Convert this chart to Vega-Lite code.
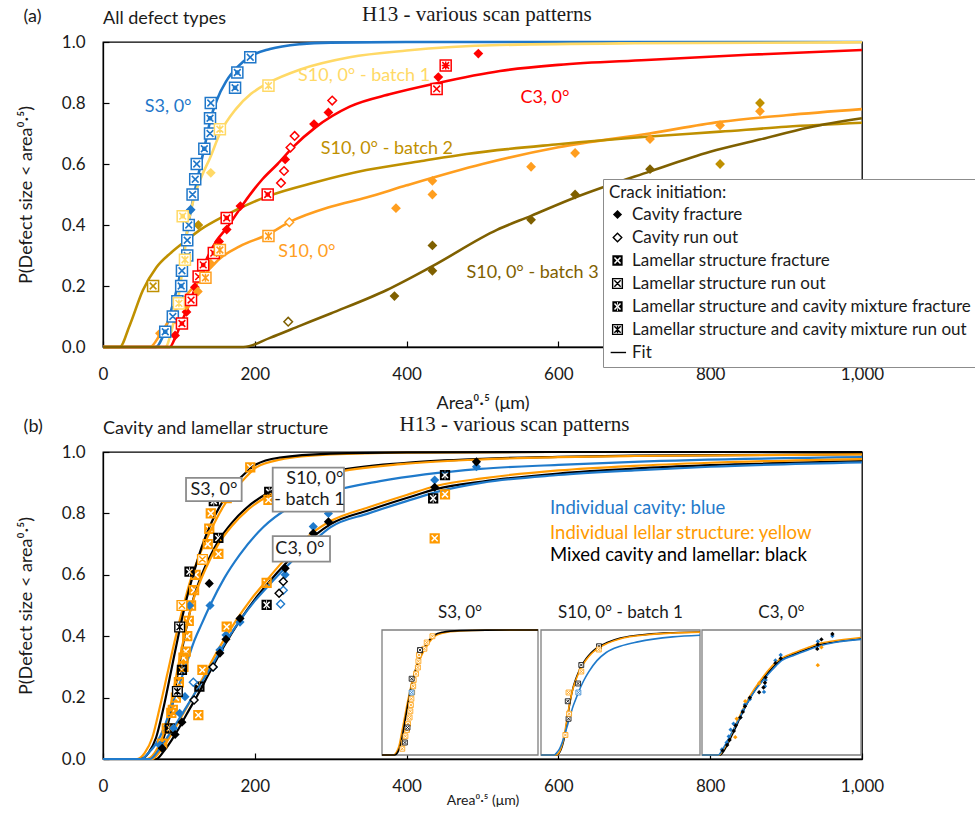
{
"$schema": "https://vega.github.io/schema/vega-lite/v6.json",
"padding": {"left": 16, "top": 4, "right": 2, "bottom": 2},
"background": "#ffffff",
"spacing": 1,
"config": {
  "font": "Lato",
  "view": {"stroke": "#000000", "strokeWidth": 1.3},
  "axis": {"grid": false, "domainColor": "#000000", "domainWidth": 1.3, "tickColor": "#000000", "tickWidth": 1.2, "tickSize": -6, "labelFont": "Lato", "labelFontSize": 17, "labelColor": "#1a1a1a", "labelFlush": false, "labelOverlap": false, "titleFont": "Lato", "titleFontWeight": "normal", "titleColor": "#1a1a1a", "titleFontSize": 18},
  "axisX": {"labelPadding": 25},
  "axisY": {"labelPadding": 24, "titlePadding": 26},
  "title": {"font": "Lato", "fontSize": 18, "fontWeight": "normal", "color": "#1a1a1a", "offset": 0, "baseline": "bottom"}
},
"resolve": {"scale": {"color": "independent", "shape": "independent", "fill": "independent", "stroke": "independent"}},
"datasets": {
"ptsA": [
{"s":"S3","t":"LR","x":82,"y":0.05},{"s":"S3","t":"LF","x":92,"y":0.10},{"s":"S3","t":"LR","x":98,"y":0.15},{"s":"S3","t":"LR","x":103,"y":0.20},{"s":"S3","t":"LF","x":104,"y":0.25},{"s":"S3","t":"LR","x":111,"y":0.30},{"s":"S3","t":"LF","x":111,"y":0.35},{"s":"S3","t":"LF","x":113,"y":0.40},{"s":"S3","t":"CF","x":115.5,"y":0.45},{"s":"S3","t":"LF","x":118,"y":0.50},{"s":"S3","t":"LF","x":121.5,"y":0.55},{"s":"S3","t":"LF","x":123.5,"y":0.60},{"s":"S3","t":"LR","x":133.5,"y":0.65},{"s":"S3","t":"LF","x":141,"y":0.70},{"s":"S3","t":"LR","x":141,"y":0.75},{"s":"S3","t":"LF","x":142,"y":0.80},{"s":"S3","t":"LR","x":174,"y":0.85},{"s":"S3","t":"LR","x":177,"y":0.90},{"s":"S3","t":"LF","x":194,"y":0.95},
{"s":"B1","t":"MF","x":100,"y":0.143},{"s":"B1","t":"MF","x":108,"y":0.286},{"s":"B1","t":"LR","x":105,"y":0.429},{"s":"B1","t":"CF","x":142,"y":0.571},{"s":"B1","t":"MF","x":154,"y":0.714},{"s":"B1","t":"MF","x":218,"y":0.857},
{"s":"C3","t":"CF","x":95,"y":0.038},{"s":"C3","t":"LR","x":104,"y":0.077},{"s":"C3","t":"CF","x":110,"y":0.115},{"s":"C3","t":"LF","x":116,"y":0.154},{"s":"C3","t":"CF","x":121,"y":0.196},{"s":"C3","t":"LF","x":126,"y":0.231},{"s":"C3","t":"LR","x":132,"y":0.269},{"s":"C3","t":"LR","x":146,"y":0.308},{"s":"C3","t":"CF","x":153,"y":0.346},{"s":"C3","t":"CF","x":163,"y":0.385},{"s":"C3","t":"LR","x":163,"y":0.423},{"s":"C3","t":"CF","x":181,"y":0.462},{"s":"C3","t":"LR","x":217,"y":0.500},{"s":"C3","t":"CR","x":234.5,"y":0.538},{"s":"C3","t":"CR","x":238.5,"y":0.577},{"s":"C3","t":"CF","x":240,"y":0.615},{"s":"C3","t":"CR","x":247,"y":0.654},{"s":"C3","t":"CR","x":252.5,"y":0.692},{"s":"C3","t":"CF","x":278,"y":0.731},{"s":"C3","t":"CF","x":297,"y":0.769},{"s":"C3","t":"CR","x":302,"y":0.808},{"s":"C3","t":"LF","x":439.6,"y":0.846},{"s":"C3","t":"CF","x":441.8,"y":0.885},{"s":"C3","t":"MR","x":451.5,"y":0.923},{"s":"C3","t":"CF","x":494.5,"y":0.962},
{"s":"S10","t":"CF","x":75,"y":0.045},{"s":"S10","t":"CF","x":95,"y":0.091},{"s":"S10","t":"CF","x":110,"y":0.136},{"s":"S10","t":"CF","x":125,"y":0.182},{"s":"S10","t":"MF","x":135,"y":0.227},{"s":"S10","t":"CF","x":142,"y":0.273},{"s":"S10","t":"MF","x":154,"y":0.318},{"s":"S10","t":"MF","x":218,"y":0.364},{"s":"S10","t":"CR","x":245.5,"y":0.409},{"s":"S10","t":"CF","x":386,"y":0.455},{"s":"S10","t":"CF","x":434,"y":0.500},{"s":"S10","t":"CF","x":434,"y":0.545},{"s":"S10","t":"CF","x":564,"y":0.591},{"s":"S10","t":"CF","x":622,"y":0.636},{"s":"S10","t":"CF","x":720.7,"y":0.682},{"s":"S10","t":"CF","x":813,"y":0.727},{"s":"S10","t":"CF","x":865.6,"y":0.773},
{"s":"B2","t":"LF","x":66,"y":0.2},{"s":"B2","t":"CF","x":125.6,"y":0.4},{"s":"B2","t":"CF","x":813,"y":0.6},{"s":"B2","t":"CF","x":865.6,"y":0.8},
{"s":"B3","t":"CR","x":244,"y":0.083},{"s":"B3","t":"CF","x":384,"y":0.167},{"s":"B3","t":"CF","x":434,"y":0.25},{"s":"B3","t":"CF","x":434,"y":0.333},{"s":"B3","t":"CF","x":564,"y":0.417},{"s":"B3","t":"CF","x":622,"y":0.5},{"s":"B3","t":"CF","x":720.7,"y":0.583}
],
"curA": [
{"s":"S3","x":0,"y":0},{"s":"S3","x":70,"y":0},{"s":"S3","x":78,"y":0.03},{"s":"S3","x":85,"y":0.08},{"s":"S3","x":92,"y":0.14},{"s":"S3","x":100,"y":0.22},{"s":"S3","x":107,"y":0.32},{"s":"S3","x":113,"y":0.41},{"s":"S3","x":120,"y":0.5},{"s":"S3","x":127,"y":0.58},{"s":"S3","x":135,"y":0.67},{"s":"S3","x":142,"y":0.75},{"s":"S3","x":150,"y":0.81},{"s":"S3","x":162,"y":0.87},{"s":"S3","x":178,"y":0.92},{"s":"S3","x":194,"y":0.953},{"s":"S3","x":220,"y":0.977},{"s":"S3","x":260,"y":0.993},{"s":"S3","x":300,"y":0.998},{"s":"S3","x":400,"y":1},{"s":"S3","x":1000,"y":1},
{"s":"B1","x":0,"y":0},{"s":"B1","x":82,"y":0},{"s":"B1","x":90,"y":0.05},{"s":"B1","x":97,"y":0.13},{"s":"B1","x":104,"y":0.24},{"s":"B1","x":112,"y":0.40},{"s":"B1","x":120,"y":0.49},{"s":"B1","x":130,"y":0.56},{"s":"B1","x":141,"y":0.62},{"s":"B1","x":154,"y":0.70},{"s":"B1","x":175,"y":0.78},{"s":"B1","x":195,"y":0.83},{"s":"B1","x":218,"y":0.866},{"s":"B1","x":260,"y":0.91},{"s":"B1","x":325,"y":0.95},{"s":"B1","x":400,"y":0.972},{"s":"B1","x":523,"y":0.99},{"s":"B1","x":700,"y":0.996},{"s":"B1","x":1000,"y":0.999},
{"s":"C3","x":0,"y":0},{"s":"C3","x":88,"y":0},{"s":"C3","x":95,"y":0.03},{"s":"C3","x":105,"y":0.09},{"s":"C3","x":115,"y":0.15},{"s":"C3","x":125,"y":0.22},{"s":"C3","x":135,"y":0.28},{"s":"C3","x":150,"y":0.35},{"s":"C3","x":163,"y":0.39},{"s":"C3","x":185,"y":0.47},{"s":"C3","x":210,"y":0.55},{"s":"C3","x":230,"y":0.6},{"s":"C3","x":251,"y":0.657},{"s":"C3","x":280,"y":0.72},{"s":"C3","x":325,"y":0.788},{"s":"C3","x":380,"y":0.83},{"s":"C3","x":440,"y":0.865},{"s":"C3","x":523,"y":0.905},{"s":"C3","x":600,"y":0.925},{"s":"C3","x":716,"y":0.941},{"s":"C3","x":850,"y":0.958},{"s":"C3","x":1000,"y":0.974},
{"s":"S10","x":0,"y":0},{"s":"S10","x":62,"y":0},{"s":"S10","x":75,"y":0.04},{"s":"S10","x":90,"y":0.1},{"s":"S10","x":110,"y":0.17},{"s":"S10","x":128,"y":0.22},{"s":"S10","x":142,"y":0.26},{"s":"S10","x":154,"y":0.29},{"s":"S10","x":180,"y":0.33},{"s":"S10","x":218,"y":0.37},{"s":"S10","x":246,"y":0.41},{"s":"S10","x":300,"y":0.46},{"s":"S10","x":347,"y":0.49},{"s":"S10","x":400,"y":0.53},{"s":"S10","x":500,"y":0.6},{"s":"S10","x":600,"y":0.655},{"s":"S10","x":720,"y":0.70},{"s":"S10","x":813,"y":0.738},{"s":"S10","x":900,"y":0.76},{"s":"S10","x":1000,"y":0.78},
{"s":"B2","x":0,"y":0},{"s":"B2","x":22,"y":0},{"s":"B2","x":35,"y":0.07},{"s":"B2","x":52.7,"y":0.187},{"s":"B2","x":70,"y":0.26},{"s":"B2","x":90,"y":0.31},{"s":"B2","x":110,"y":0.35},{"s":"B2","x":127.8,"y":0.384},{"s":"B2","x":160,"y":0.43},{"s":"B2","x":215.7,"y":0.493},{"s":"B2","x":280,"y":0.54},{"s":"B2","x":347,"y":0.58},{"s":"B2","x":420,"y":0.61},{"s":"B2","x":479,"y":0.633},{"s":"B2","x":600,"y":0.665},{"s":"B2","x":720,"y":0.69},{"s":"B2","x":813,"y":0.706},{"s":"B2","x":900,"y":0.722},{"s":"B2","x":1000,"y":0.735},
{"s":"B3","x":0,"y":0},{"s":"B3","x":185,"y":0},{"s":"B3","x":220,"y":0.03},{"s":"B3","x":260,"y":0.07},{"s":"B3","x":300,"y":0.11},{"s":"B3","x":374,"y":0.187},{"s":"B3","x":434,"y":0.265},{"s":"B3","x":519,"y":0.384},{"s":"B3","x":564,"y":0.43},{"s":"B3","x":622,"y":0.49},{"s":"B3","x":720,"y":0.575},{"s":"B3","x":800,"y":0.64},{"s":"B3","x":865,"y":0.68},{"s":"B3","x":930,"y":0.72},{"s":"B3","x":1000,"y":0.75}
],
"labA": [
{"txt":"S3, 0°","s":"S3","x":55,"y":0.786},
{"txt":"S10, 0° - batch 1","s":"B1","x":257,"y":0.889},
{"txt":"C3, 0°","s":"C3","x":550,"y":0.817},
{"txt":"S10, 0° - batch 2","s":"B2","x":287,"y":0.649},
{"txt":"S10, 0°","s":"S10","x":231,"y":0.312},
{"txt":"S10, 0° - batch 3","s":"B3","x":479,"y":0.242}
],
"ptsB": [
{"p":"S3","g":"lam","t":"LF","x":78,"y":0.05},{"p":"S3","g":"lam","t":"LF","x":84,"y":0.10},{"p":"S3","g":"lam","t":"LF","x":90,"y":0.15},{"p":"S3","g":"lam","t":"LF","x":96,"y":0.20},{"p":"S3","g":"lam","t":"LF","x":100,"y":0.25},{"p":"S3","g":"lam","t":"LF","x":106,"y":0.30},{"p":"S3","g":"lam","t":"LF","x":109,"y":0.35},{"p":"S3","g":"lam","t":"LF","x":111,"y":0.40},{"p":"S3","g":"lam","t":"LF","x":113,"y":0.45},{"p":"S3","g":"lam","t":"LF","x":116,"y":0.50},{"p":"S3","g":"lam","t":"LF","x":120,"y":0.55},{"p":"S3","g":"lam","t":"LF","x":122,"y":0.60},{"p":"S3","g":"lam","t":"LR","x":131,"y":0.65},{"p":"S3","g":"lam","t":"LF","x":138,"y":0.70},{"p":"S3","g":"lam","t":"LF","x":140,"y":0.75},{"p":"S3","g":"lam","t":"LF","x":142,"y":0.80},{"p":"S3","g":"lam","t":"LF","x":163,"y":0.85},{"p":"S3","g":"lam","t":"LF","x":172,"y":0.90},{"p":"S3","g":"lam","t":"LF","x":194,"y":0.95},
{"p":"S3","g":"mix","t":"MF","x":88,"y":0.10},{"p":"S3","g":"mix","t":"MR","x":98,"y":0.22},{"p":"S3","g":"mix","t":"MF","x":114,"y":0.61},{"p":"S3","g":"mix","t":"MF","x":146,"y":0.84},
{"p":"S3","g":"cav","t":"CF","x":114,"y":0.50},
{"p":"B1","g":"mix","t":"MF","x":219,"y":0.87},{"p":"B1","g":"mix","t":"MF","x":152,"y":0.72},{"p":"B1","g":"mix","t":"MR","x":101,"y":0.43},{"p":"B1","g":"mix","t":"MF","x":104,"y":0.29},{"p":"B1","g":"mix","t":"CF","x":140,"y":0.572},
{"p":"B1","g":"lam","t":"LF","x":218,"y":0.844},{"p":"B1","g":"lam","t":"LF","x":152,"y":0.668},{"p":"B1","g":"lam","t":"LR","x":104,"y":0.50},{"p":"B1","g":"lam","t":"LF","x":106,"y":0.33},{"p":"B1","g":"lam","t":"LF","x":92,"y":0.16},
{"p":"B1","g":"cav","t":"CF","x":141,"y":0.50},
{"p":"C3","g":"cav","t":"CF","x":492,"y":0.952},{"p":"C3","g":"cav","t":"CF","x":437,"y":0.909},{"p":"C3","g":"cav","t":"CF","x":297,"y":0.80},{"p":"C3","g":"cav","t":"CF","x":277,"y":0.757},{"p":"C3","g":"cav","t":"CF","x":240,"y":0.60},{"p":"C3","g":"cav","t":"CR","x":237.5,"y":0.55},{"p":"C3","g":"cav","t":"CR","x":234,"y":0.505},{"p":"C3","g":"cav","t":"CF","x":180.5,"y":0.446},{"p":"C3","g":"cav","t":"CF","x":162,"y":0.404},{"p":"C3","g":"cav","t":"CF","x":154,"y":0.355},{"p":"C3","g":"cav","t":"CR","x":145,"y":0.30},{"p":"C3","g":"cav","t":"CR","x":119,"y":0.25},{"p":"C3","g":"cav","t":"CF","x":108,"y":0.203},{"p":"C3","g":"cav","t":"CF","x":101,"y":0.149},{"p":"C3","g":"cav","t":"CF","x":93,"y":0.10},{"p":"C3","g":"cav","t":"CF","x":75,"y":0.045},
{"p":"C3","g":"mix","t":"CF","x":492,"y":0.968},{"p":"C3","g":"mix","t":"MF","x":450.6,"y":0.925},{"p":"C3","g":"mix","t":"CF","x":437,"y":0.885},{"p":"C3","g":"mix","t":"MF","x":435,"y":0.849},{"p":"C3","g":"mix","t":"CF","x":297,"y":0.773},{"p":"C3","g":"mix","t":"CF","x":277,"y":0.735},{"p":"C3","g":"mix","t":"CF","x":240,"y":0.621},{"p":"C3","g":"mix","t":"CR","x":237.5,"y":0.578},{"p":"C3","g":"mix","t":"CR","x":232,"y":0.54},{"p":"C3","g":"mix","t":"MF","x":215.6,"y":0.502},{"p":"C3","g":"mix","t":"CF","x":180.5,"y":0.458},{"p":"C3","g":"mix","t":"CF","x":162,"y":0.39},{"p":"C3","g":"mix","t":"CF","x":154,"y":0.345},{"p":"C3","g":"mix","t":"CR","x":145,"y":0.30},{"p":"C3","g":"mix","t":"MF","x":127,"y":0.236},{"p":"C3","g":"mix","t":"CR","x":120,"y":0.192},{"p":"C3","g":"mix","t":"CF","x":104,"y":0.12},{"p":"C3","g":"mix","t":"CF","x":95,"y":0.08},{"p":"C3","g":"mix","t":"CF","x":78,"y":0.035},
{"p":"C3","g":"lam","t":"LF","x":450.6,"y":0.862},{"p":"C3","g":"lam","t":"LF","x":437,"y":0.719},{"p":"C3","g":"lam","t":"LF","x":215.6,"y":0.574},{"p":"C3","g":"lam","t":"LF","x":163,"y":0.431},{"p":"C3","g":"lam","t":"LF","x":131,"y":0.29},{"p":"C3","g":"lam","t":"LF","x":125.6,"y":0.143}
],
"curB": [
{"p":"S3","g":"lam","x":0,"y":0},{"p":"S3","g":"lam","x":45,"y":0},{"p":"S3","g":"lam","x":55,"y":0.02},{"p":"S3","g":"lam","x":65,"y":0.07},{"p":"S3","g":"lam","x":75,"y":0.17},{"p":"S3","g":"lam","x":85,"y":0.28},{"p":"S3","g":"lam","x":95,"y":0.39},{"p":"S3","g":"lam","x":105,"y":0.49},{"p":"S3","g":"lam","x":115,"y":0.58},{"p":"S3","g":"lam","x":128,"y":0.67},{"p":"S3","g":"lam","x":141,"y":0.74},{"p":"S3","g":"lam","x":158,"y":0.82},{"p":"S3","g":"lam","x":175,"y":0.88},{"p":"S3","g":"lam","x":189,"y":0.92},{"p":"S3","g":"lam","x":202,"y":0.95},{"p":"S3","g":"lam","x":233,"y":0.975},{"p":"S3","g":"lam","x":300,"y":0.992},{"p":"S3","g":"lam","x":400,"y":0.998},{"p":"S3","g":"lam","x":600,"y":1},{"p":"S3","g":"lam","x":1000,"y":1},
{"p":"S3","g":"mix","x":0,"y":0},{"p":"S3","g":"mix","x":50,"y":0},{"p":"S3","g":"mix","x":60,"y":0.02},{"p":"S3","g":"mix","x":70,"y":0.07},{"p":"S3","g":"mix","x":80,"y":0.17},{"p":"S3","g":"mix","x":90,"y":0.29},{"p":"S3","g":"mix","x":100,"y":0.41},{"p":"S3","g":"mix","x":110,"y":0.52},{"p":"S3","g":"mix","x":120,"y":0.61},{"p":"S3","g":"mix","x":130,"y":0.69},{"p":"S3","g":"mix","x":141,"y":0.76},{"p":"S3","g":"mix","x":158,"y":0.84},{"p":"S3","g":"mix","x":175,"y":0.9},{"p":"S3","g":"mix","x":189,"y":0.935},{"p":"S3","g":"mix","x":202,"y":0.96},{"p":"S3","g":"mix","x":233,"y":0.982},{"p":"S3","g":"mix","x":300,"y":0.995},{"p":"S3","g":"mix","x":400,"y":0.999},{"p":"S3","g":"mix","x":600,"y":1},{"p":"S3","g":"mix","x":1000,"y":1},
{"p":"B1","g":"mix","x":0,"y":0},{"p":"B1","g":"mix","x":60,"y":0},{"p":"B1","g":"mix","x":70,"y":0.02},{"p":"B1","g":"mix","x":80,"y":0.07},{"p":"B1","g":"mix","x":90,"y":0.16},{"p":"B1","g":"mix","x":100,"y":0.3},{"p":"B1","g":"mix","x":110,"y":0.43},{"p":"B1","g":"mix","x":120,"y":0.53},{"p":"B1","g":"mix","x":130,"y":0.6},{"p":"B1","g":"mix","x":141,"y":0.66},{"p":"B1","g":"mix","x":152,"y":0.71},{"p":"B1","g":"mix","x":170,"y":0.77},{"p":"B1","g":"mix","x":190,"y":0.82},{"p":"B1","g":"mix","x":216,"y":0.865},{"p":"B1","g":"mix","x":250,"y":0.9},{"p":"B1","g":"mix","x":300,"y":0.935},{"p":"B1","g":"mix","x":400,"y":0.965},{"p":"B1","g":"mix","x":500,"y":0.978},{"p":"B1","g":"mix","x":600,"y":0.984},{"p":"B1","g":"mix","x":700,"y":0.988},{"p":"B1","g":"mix","x":1000,"y":0.993},
{"p":"B1","g":"lam","x":0,"y":0},{"p":"B1","g":"lam","x":58,"y":0},{"p":"B1","g":"lam","x":68,"y":0.02},{"p":"B1","g":"lam","x":78,"y":0.07},{"p":"B1","g":"lam","x":88,"y":0.16},{"p":"B1","g":"lam","x":98,"y":0.29},{"p":"B1","g":"lam","x":108,"y":0.41},{"p":"B1","g":"lam","x":118,"y":0.51},{"p":"B1","g":"lam","x":130,"y":0.59},{"p":"B1","g":"lam","x":141,"y":0.65},{"p":"B1","g":"lam","x":152,"y":0.7},{"p":"B1","g":"lam","x":170,"y":0.76},{"p":"B1","g":"lam","x":190,"y":0.81},{"p":"B1","g":"lam","x":216,"y":0.855},{"p":"B1","g":"lam","x":250,"y":0.893},{"p":"B1","g":"lam","x":300,"y":0.93},{"p":"B1","g":"lam","x":400,"y":0.962},{"p":"B1","g":"lam","x":500,"y":0.976},{"p":"B1","g":"lam","x":600,"y":0.983},{"p":"B1","g":"lam","x":700,"y":0.987},{"p":"B1","g":"lam","x":1000,"y":0.992},
{"p":"B1","g":"cav","x":0,"y":0},{"p":"B1","g":"cav","x":50,"y":0},{"p":"B1","g":"cav","x":60,"y":0.02},{"p":"B1","g":"cav","x":70,"y":0.05},{"p":"B1","g":"cav","x":80,"y":0.1},{"p":"B1","g":"cav","x":90,"y":0.17},{"p":"B1","g":"cav","x":101,"y":0.246},{"p":"B1","g":"cav","x":110,"y":0.31},{"p":"B1","g":"cav","x":119,"y":0.377},{"p":"B1","g":"cav","x":130,"y":0.44},{"p":"B1","g":"cav","x":141,"y":0.5},{"p":"B1","g":"cav","x":160,"y":0.59},{"p":"B1","g":"cav","x":180,"y":0.665},{"p":"B1","g":"cav","x":211,"y":0.755},{"p":"B1","g":"cav","x":246,"y":0.82},{"p":"B1","g":"cav","x":299,"y":0.87},{"p":"B1","g":"cav","x":365,"y":0.905},{"p":"B1","g":"cav","x":497,"y":0.945},{"p":"B1","g":"cav","x":600,"y":0.958},{"p":"B1","g":"cav","x":700,"y":0.968},{"p":"B1","g":"cav","x":1000,"y":0.983},
{"p":"C3","g":"mix","x":0,"y":0},{"p":"C3","g":"mix","x":70,"y":0},{"p":"C3","g":"mix","x":80,"y":0.025},{"p":"C3","g":"mix","x":90,"y":0.06},{"p":"C3","g":"mix","x":100,"y":0.1},{"p":"C3","g":"mix","x":110,"y":0.145},{"p":"C3","g":"mix","x":125,"y":0.21},{"p":"C3","g":"mix","x":140,"y":0.28},{"p":"C3","g":"mix","x":160,"y":0.37},{"p":"C3","g":"mix","x":180,"y":0.45},{"p":"C3","g":"mix","x":200,"y":0.52},{"p":"C3","g":"mix","x":220,"y":0.58},{"p":"C3","g":"mix","x":240,"y":0.635},{"p":"C3","g":"mix","x":260,"y":0.685},{"p":"C3","g":"mix","x":280,"y":0.73},{"p":"C3","g":"mix","x":300,"y":0.765},{"p":"C3","g":"mix","x":350,"y":0.81},{"p":"C3","g":"mix","x":400,"y":0.85},{"p":"C3","g":"mix","x":440,"y":0.88},{"p":"C3","g":"mix","x":500,"y":0.904},{"p":"C3","g":"mix","x":600,"y":0.93},{"p":"C3","g":"mix","x":700,"y":0.946},{"p":"C3","g":"mix","x":800,"y":0.957},{"p":"C3","g":"mix","x":1000,"y":0.97},
{"p":"C3","g":"lam","x":0,"y":0},{"p":"C3","g":"lam","x":65,"y":0},{"p":"C3","g":"lam","x":75,"y":0.025},{"p":"C3","g":"lam","x":85,"y":0.06},{"p":"C3","g":"lam","x":95,"y":0.1},{"p":"C3","g":"lam","x":105,"y":0.145},{"p":"C3","g":"lam","x":120,"y":0.21},{"p":"C3","g":"lam","x":135,"y":0.28},{"p":"C3","g":"lam","x":155,"y":0.37},{"p":"C3","g":"lam","x":175,"y":0.45},{"p":"C3","g":"lam","x":195,"y":0.52},{"p":"C3","g":"lam","x":215,"y":0.58},{"p":"C3","g":"lam","x":235,"y":0.638},{"p":"C3","g":"lam","x":255,"y":0.69},{"p":"C3","g":"lam","x":275,"y":0.735},{"p":"C3","g":"lam","x":300,"y":0.775},{"p":"C3","g":"lam","x":350,"y":0.82},{"p":"C3","g":"lam","x":400,"y":0.86},{"p":"C3","g":"lam","x":440,"y":0.89},{"p":"C3","g":"lam","x":500,"y":0.914},{"p":"C3","g":"lam","x":600,"y":0.94},{"p":"C3","g":"lam","x":700,"y":0.955},{"p":"C3","g":"lam","x":800,"y":0.965},{"p":"C3","g":"lam","x":1000,"y":0.977},
{"p":"C3","g":"cav","x":0,"y":0},{"p":"C3","g":"cav","x":62,"y":0},{"p":"C3","g":"cav","x":72,"y":0.025},{"p":"C3","g":"cav","x":82,"y":0.06},{"p":"C3","g":"cav","x":95,"y":0.11},{"p":"C3","g":"cav","x":110,"y":0.17},{"p":"C3","g":"cav","x":125,"y":0.23},{"p":"C3","g":"cav","x":140,"y":0.29},{"p":"C3","g":"cav","x":160,"y":0.375},{"p":"C3","g":"cav","x":180,"y":0.45},{"p":"C3","g":"cav","x":200,"y":0.515},{"p":"C3","g":"cav","x":220,"y":0.57},{"p":"C3","g":"cav","x":240,"y":0.622},{"p":"C3","g":"cav","x":260,"y":0.67},{"p":"C3","g":"cav","x":280,"y":0.715},{"p":"C3","g":"cav","x":300,"y":0.755},{"p":"C3","g":"cav","x":350,"y":0.8},{"p":"C3","g":"cav","x":400,"y":0.84},{"p":"C3","g":"cav","x":440,"y":0.87},{"p":"C3","g":"cav","x":500,"y":0.9},{"p":"C3","g":"cav","x":600,"y":0.925},{"p":"C3","g":"cav","x":700,"y":0.94},{"p":"C3","g":"cav","x":800,"y":0.952},{"p":"C3","g":"cav","x":1000,"y":0.966}
],
"boxB": [
{"x1":109.4,"x2":182.7,"y1":0.840,"y2":0.916},
{"x1":223.6,"x2":317.5,"y1":0.806,"y2":0.949},
{"x1":223.6,"x2":299.1,"y1":0.643,"y2":0.726}
],
"txtB": [
{"txt":"S3, 0°","x":146.2,"y":0.876},
{"txt":"S10, 0°","x":279,"y":0.912},
{"txt":"- batch 1","x":272,"y":0.843},
{"txt":"C3, 0°","x":259.4,"y":0.683}
],
"labB": [
{"txt":"Individual cavity: blue","g":"cav","x":589,"y":0.818},
{"txt":"Individual lellar structure: yellow","g":"lam","x":589,"y":0.736},
{"txt":"Mixed cavity and lamellar: black","g":"mix","x":589,"y":0.664}
],
"insB": [
{"p":"S3","name":"S3, 0°"},
{"p":"B1","name":"S10, 0° - batch 1"},
{"p":"C3","name":"C3, 0°"}
]
},
"vconcat": [
{
 "title": {"text": "(a)", "anchor": "start", "frame": "bounds", "dx": 7, "dy": 26},
 "resolve": {"scale": {"color": "independent", "shape": "independent", "fill": "independent", "stroke": "independent"}},
 "vconcat": [{
  "title": {"text": "H13 - various scan patterns", "font": "Liberation Serif", "fontSize": 21, "anchor": "middle", "frame": "bounds", "dx": -21, "dy": 20},
  "resolve": {"scale": {"color": "independent", "shape": "independent", "fill": "independent", "stroke": "independent"}},
  "vconcat": [{
   "title": {"text": "All defect types", "anchor": "start", "frame": "group", "offset": 5},
   "width": 759, "height": 305,
   "resolve": {"scale": {"shape": "independent", "fill": "independent", "stroke": "independent"}},
   "encoding": {
     "x": {"field": "x", "type": "quantitative", "scale": {"domain": [0, 1000], "nice": false}, "axis": {"values": [0, 200, 400, 600, 800, 1000], "format": ",.0f", "title": "Area⁰·⁵ (μm)", "titlePadding": 12}},
     "y": {"field": "y", "type": "quantitative", "scale": {"domain": [0, 1], "nice": false}, "axis": {"values": [0, 0.2, 0.4, 0.6, 0.8, 1], "format": ".1f", "title": "P(Defect size < area⁰·⁵)"}}
   },
   "layer": [
    {"data": {"name": "ptsA"},
     "mark": {"type": "point", "filled": true, "size": 0, "opacity": 1, "strokeWidth": 1.2},
     "encoding": {
      "shape": {"field": "t", "type": "nominal",
        "scale": {"domain": ["CF","CR","LF","LR","MF","MR","Fit"], "range": ["M0,-0.8L0.8,0L0,0.8L-0.8,0Z", "M0,-0.75L0.75,0L0,0.75L-0.75,0Z", "M-0.9,-0.9H0.9V0.9H-0.9Z M0.438,-0.622L0,-0.184L-0.438,-0.622L-0.622,-0.438L-0.184,0L-0.622,0.438L-0.438,0.622L0,0.184L0.438,0.622L0.622,0.438L0.184,0L0.622,-0.438Z", "M-0.85,-0.85H0.85V0.85H-0.85Z M-0.55,-0.55L0.55,0.55 M-0.55,0.55L0.55,-0.55", "M-0.9,-0.9H0.9V0.9H-0.9Z M0.438,-0.622L0,-0.184L-0.438,-0.622L-0.622,-0.438L-0.184,0L-0.622,0.438L-0.438,0.622L0,0.184L0.438,0.622L0.622,0.438L0.184,0L0.622,-0.438Z M-0.07,-0.8V-0.32H0.07V-0.8Z M-0.07,0.32V0.8H0.07V0.32Z", "M-0.85,-0.85H0.85V0.85H-0.85Z M-0.55,-0.55L0.55,0.55 M-0.55,0.55L0.55,-0.55 M0,-0.65V0.65", "M-1.2,0H1.5"]},
        "legend": {"title": "Crack initiation:", "orient": "none", "legendX": 500, "legendY": 137, "fillColor": "#ffffff", "strokeColor": "#8c8c8c", "padding": 6, "titleFont": "Lato", "titleFontSize": 17, "titleFontWeight": "normal", "titleColor": "#1a1a1a", "titlePadding": 4, "labelFont": "Lato", "labelFontSize": 17, "labelColor": "#1a1a1a", "labelLimit": 600, "labelOffset": 6, "rowPadding": 5, "symbolSize": 130, "symbolStrokeWidth": 1.4, "symbolOpacity": 1, "labelExpr": "datum.label == 'CF' ? 'Cavity fracture' : datum.label == 'CR' ? 'Cavity run out' : datum.label == 'LF' ? 'Lamellar structure fracture' : datum.label == 'LR' ? 'Lamellar structure run out' : datum.label == 'MF' ? 'Lamellar structure and cavity mixture fracture' : datum.label == 'MR' ? 'Lamellar structure and cavity mixture run out' : 'Fit'"}},
      "fill": {"field": "t", "type": "nominal",
        "scale": {"domain": ["CF","CR","LF","LR","MF","MR","Fit"], "range": ["#000000","#ffffff","#000000","#ffffff","#000000","#ffffff","#ffffff"]},
        "legend": {"title": "Crack initiation:", "orient": "none", "legendX": 500, "legendY": 137, "fillColor": "#ffffff", "strokeColor": "#8c8c8c", "padding": 6, "titleFont": "Lato", "titleFontSize": 17, "titleFontWeight": "normal", "titleColor": "#1a1a1a", "titlePadding": 4, "labelFont": "Lato", "labelFontSize": 17, "labelColor": "#1a1a1a", "labelLimit": 600, "labelOffset": 6, "rowPadding": 5, "symbolSize": 130, "symbolStrokeWidth": 1.4, "symbolOpacity": 1, "labelExpr": "datum.label == 'CF' ? 'Cavity fracture' : datum.label == 'CR' ? 'Cavity run out' : datum.label == 'LF' ? 'Lamellar structure fracture' : datum.label == 'LR' ? 'Lamellar structure run out' : datum.label == 'MF' ? 'Lamellar structure and cavity mixture fracture' : datum.label == 'MR' ? 'Lamellar structure and cavity mixture run out' : 'Fit'"}},
      "stroke": {"field": "t", "type": "nominal",
        "scale": {"domain": ["CF","CR","LF","LR","MF","MR","Fit"], "range": ["transparent","#000000","transparent","#000000","transparent","#000000","#000000"]},
        "legend": {"title": "Crack initiation:", "orient": "none", "legendX": 500, "legendY": 137, "fillColor": "#ffffff", "strokeColor": "#8c8c8c", "padding": 6, "titleFont": "Lato", "titleFontSize": 17, "titleFontWeight": "normal", "titleColor": "#1a1a1a", "titlePadding": 4, "labelFont": "Lato", "labelFontSize": 17, "labelColor": "#1a1a1a", "labelLimit": 600, "labelOffset": 6, "rowPadding": 5, "symbolSize": 130, "symbolStrokeWidth": 1.4, "symbolOpacity": 1, "labelExpr": "datum.label == 'CF' ? 'Cavity fracture' : datum.label == 'CR' ? 'Cavity run out' : datum.label == 'LF' ? 'Lamellar structure fracture' : datum.label == 'LR' ? 'Lamellar structure run out' : datum.label == 'MF' ? 'Lamellar structure and cavity mixture fracture' : datum.label == 'MR' ? 'Lamellar structure and cavity mixture run out' : 'Fit'"}}
     }},
    {"data": {"name": "curA"},
     "mark": {"type": "line", "interpolate": "monotone", "strokeWidth": 2.6},
     "encoding": {"color": {"field": "s", "type": "nominal", "scale": {"domain": ["S3","B1","C3","S10","B2","B3"], "range": ["#1F77C9","#FFD966","#FF0000","#FF9E1F","#BF9000","#7F6000"]}, "legend": null}}},
    {"data": {"name": "ptsA"},
     "transform": [{"filter": "datum.t == 'CF'"}],
     "mark": {"type": "point", "filled": true, "opacity": 1, "size": 150, "strokeWidth": 0},
     "encoding": {
      "shape": {"field": "t", "type": "nominal", "scale": {"domain": ["CF","CR","LF","LR","MF","MR","Fit"], "range": ["M0,-0.8L0.8,0L0,0.8L-0.8,0Z", "M0,-0.7L0.7,0L0,0.7L-0.7,0Z", "M-0.9,-0.9H0.9V0.9H-0.9Z M-0.55,-0.55L0.55,0.55 M-0.55,0.55L0.55,-0.55", "M-0.9,-0.9H0.9V0.9H-0.9Z M-0.55,-0.55L0.55,0.55 M-0.55,0.55L0.55,-0.55 M-0.25,-0.25H0.25V0.25H-0.25Z", "M-0.9,-0.9H0.9V0.9H-0.9Z M-0.55,-0.55L0.55,0.55 M-0.55,0.55L0.55,-0.55 M0,-0.65V0.65", "M-0.9,-0.9H0.9V0.9H-0.9Z M-0.55,-0.55L0.55,0.55 M-0.55,0.55L0.55,-0.55 M0,-0.65V0.65 M-0.65,0H0.65", "M-1,0H1"]}, "legend": null},
      "color": {"field": "s", "type": "nominal", "scale": {"domain": ["S3","B1","C3","S10","B2","B3"], "range": ["#1F77C9","#FFD966","#FF0000","#FF9E1F","#BF9000","#7F6000"]}, "legend": null}
     }},
    {"data": {"name": "ptsA"},
     "transform": [{"filter": "datum.t != 'CF'"}],
     "mark": {"type": "point", "filled": true, "fill": "#ffffff", "opacity": 1, "size": 150, "strokeWidth": 1.5},
     "encoding": {
      "shape": {"field": "t", "type": "nominal", "scale": {"domain": ["CF","CR","LF","LR","MF","MR","Fit"], "range": ["M0,-0.8L0.8,0L0,0.8L-0.8,0Z", "M0,-0.7L0.7,0L0,0.7L-0.7,0Z", "M-0.9,-0.9H0.9V0.9H-0.9Z M-0.55,-0.55L0.55,0.55 M-0.55,0.55L0.55,-0.55", "M-0.9,-0.9H0.9V0.9H-0.9Z M-0.55,-0.55L0.55,0.55 M-0.55,0.55L0.55,-0.55 M-0.25,-0.25H0.25V0.25H-0.25Z", "M-0.9,-0.9H0.9V0.9H-0.9Z M-0.55,-0.55L0.55,0.55 M-0.55,0.55L0.55,-0.55 M0,-0.65V0.65", "M-0.9,-0.9H0.9V0.9H-0.9Z M-0.55,-0.55L0.55,0.55 M-0.55,0.55L0.55,-0.55 M0,-0.65V0.65 M-0.65,0H0.65", "M-1,0H1"]}, "legend": null},
      "stroke": {"field": "s", "type": "nominal", "scale": {"domain": ["S3","B1","C3","S10","B2","B3"], "range": ["#1F77C9","#FFD966","#FF0000","#FF9E1F","#BF9000","#7F6000"]}, "legend": null}
     }},
    {"data": {"name": "labA"},
     "mark": {"type": "text", "align": "left", "baseline": "middle", "fontSize": 18, "font": "Lato"},
     "encoding": {"text": {"field": "txt"}, "color": {"field": "s", "type": "nominal", "scale": {"domain": ["S3","B1","C3","S10","B2","B3"], "range": ["#1F77C9","#FFD966","#FF0000","#FF9E1F","#BF9000","#7F6000"]}, "legend": null}}}
   ]
  }]
 }]
},
{
 "title": {"text": "(b)", "anchor": "start", "frame": "bounds", "dx": 7, "dy": 26},
 "resolve": {"scale": {"color": "independent", "shape": "independent", "fill": "independent", "stroke": "independent"}},
 "vconcat": [{
  "title": {"text": "H13 - various scan patterns", "font": "Liberation Serif", "fontSize": 21, "anchor": "middle", "frame": "bounds", "dx": 64, "dy": 20},
  "resolve": {"scale": {"color": "independent", "shape": "independent", "fill": "independent", "stroke": "independent"}},
  "vconcat": [{
   "title": {"text": "Cavity and lamellar structure", "anchor": "start", "frame": "group", "offset": 5},
   "width": 759, "height": 307,
   "resolve": {"scale": {"x": "independent", "y": "independent"}},
   "layer": [
    {
     "encoding": {
       "x": {"field": "x", "type": "quantitative", "scale": {"domain": [0, 1000], "nice": false}, "axis": {"values": [0, 200, 400, 600, 800, 1000], "format": ",.0f", "title": "Area⁰·⁵ (μm)", "titleFontSize": 14, "titlePadding": -1}},
       "y": {"field": "y", "type": "quantitative", "scale": {"domain": [0, 1], "nice": false}, "axis": {"values": [0, 0.2, 0.4, 0.6, 0.8, 1], "format": ".1f", "title": "P(Defect size < area⁰·⁵)"}}
     },
     "layer": [
      {"data": {"name": "curB"},
       "mark": {"type": "line", "interpolate": "monotone", "strokeWidth": 2.2},
       "encoding": {"color": {"field": "g", "type": "nominal", "scale": {"domain": ["cav","lam","mix"], "range": ["#1F7ACB","#FF9A00","#000000"]}, "legend": null}, "detail": {"field": "p"}}},
      {"data": {"name": "ptsB"},
       "transform": [{"filter": "datum.t == 'CF' || datum.t == 'LF' || datum.t == 'MF'"}],
       "mark": {"type": "point", "filled": true, "opacity": 1, "size": 130, "strokeWidth": 0},
       "encoding": {
        "shape": {"field": "t", "type": "nominal", "scale": {"domain": ["CF","CR","LF","LR","MF","MR","Fit"], "range": ["M0,-0.8L0.8,0L0,0.8L-0.8,0Z", "M0,-0.7L0.7,0L0,0.7L-0.7,0Z", "M-0.9,-0.9H0.9V0.9H-0.9Z M0.438,-0.622L0,-0.184L-0.438,-0.622L-0.622,-0.438L-0.184,0L-0.622,0.438L-0.438,0.622L0,0.184L0.438,0.622L0.622,0.438L0.184,0L0.622,-0.438Z", "M-0.85,-0.85H0.85V0.85H-0.85Z M-0.55,-0.55L0.55,0.55 M-0.55,0.55L0.55,-0.55", "M-0.9,-0.9H0.9V0.9H-0.9Z M0.438,-0.622L0,-0.184L-0.438,-0.622L-0.622,-0.438L-0.184,0L-0.622,0.438L-0.438,0.622L0,0.184L0.438,0.622L0.622,0.438L0.184,0L0.622,-0.438Z M-0.07,-0.8V-0.32H0.07V-0.8Z M-0.07,0.32V0.8H0.07V0.32Z", "M-0.85,-0.85H0.85V0.85H-0.85Z M-0.55,-0.55L0.55,0.55 M-0.55,0.55L0.55,-0.55 M0,-0.65V0.65", "M-1,0H1"]}, "legend": null},
        "color": {"field": "g", "type": "nominal", "scale": {"domain": ["cav","lam","mix"], "range": ["#1F7ACB","#FF9A00","#000000"]}, "legend": null}
       }},
      {"data": {"name": "ptsB"},
       "transform": [{"filter": "datum.t == 'CR' || datum.t == 'LR' || datum.t == 'MR'"}],
       "mark": {"type": "point", "filled": true, "fill": "#ffffff", "opacity": 1, "size": 130, "strokeWidth": 1.4},
       "encoding": {
        "shape": {"field": "t", "type": "nominal", "scale": {"domain": ["CF","CR","LF","LR","MF","MR","Fit"], "range": ["M0,-0.8L0.8,0L0,0.8L-0.8,0Z", "M0,-0.7L0.7,0L0,0.7L-0.7,0Z", "M-0.9,-0.9H0.9V0.9H-0.9Z M0.438,-0.622L0,-0.184L-0.438,-0.622L-0.622,-0.438L-0.184,0L-0.622,0.438L-0.438,0.622L0,0.184L0.438,0.622L0.622,0.438L0.184,0L0.622,-0.438Z", "M-0.85,-0.85H0.85V0.85H-0.85Z M-0.55,-0.55L0.55,0.55 M-0.55,0.55L0.55,-0.55", "M-0.9,-0.9H0.9V0.9H-0.9Z M0.438,-0.622L0,-0.184L-0.438,-0.622L-0.622,-0.438L-0.184,0L-0.622,0.438L-0.438,0.622L0,0.184L0.438,0.622L0.622,0.438L0.184,0L0.622,-0.438Z M-0.07,-0.8V-0.32H0.07V-0.8Z M-0.07,0.32V0.8H0.07V0.32Z", "M-0.85,-0.85H0.85V0.85H-0.85Z M-0.55,-0.55L0.55,0.55 M-0.55,0.55L0.55,-0.55 M0,-0.65V0.65", "M-1,0H1"]}, "legend": null},
        "stroke": {"field": "g", "type": "nominal", "scale": {"domain": ["cav","lam","mix"], "range": ["#1F7ACB","#FF9A00","#000000"]}, "legend": null}
       }},
      {"data": {"name": "boxB"},
       "mark": {"type": "rect", "fill": "#ffffff", "stroke": "#8c8c8c", "strokeWidth": 1.8},
       "encoding": {"x": {"field": "x1", "type": "quantitative"}, "x2": {"field": "x2"}, "y": {"field": "y1", "type": "quantitative"}, "y2": {"field": "y2"}}},
      {"data": {"name": "txtB"},
       "mark": {"type": "text", "align": "center", "baseline": "middle", "fontSize": 18, "color": "#1a1a1a"},
       "encoding": {"text": {"field": "txt"}}},
      {"data": {"name": "labB"},
       "mark": {"type": "text", "align": "left", "baseline": "middle", "fontSize": 18.5},
       "encoding": {"text": {"field": "txt"}, "color": {"field": "g", "type": "nominal", "scale": {"domain": ["cav","lam","mix"], "range": ["#1F7ACB","#FF9A00","#1a1a1a"]}, "legend": null}}}
     ]
    },
    {
     "layer": [
      {"data": {"name": "insB"}, "transform": [{"filter": "datum.p == 'S3'"}],
       "mark": {"type": "rect", "fill": "#ffffff", "stroke": "#7f7f7f", "strokeWidth": 1.3},
       "encoding": {"x": {"datum": 0, "type": "quantitative", "scale": {"domain": [0, 600], "range": [279, 435], "nice": false, "zero": false}, "axis": null}, "x2": {"datum": 600}, "y": {"datum": 0, "type": "quantitative", "scale": {"domain": [0, 1], "range": [303, 178], "nice": false, "zero": false}, "axis": null}, "y2": {"datum": 1}}},
      {"data": {"name": "curB"}, "transform": [{"filter": "datum.p == 'S3' && datum.x <= 600"}],
       "mark": {"type": "line", "interpolate": "monotone", "strokeWidth": 1.6},
       "encoding": {"x": {"field": "x", "type": "quantitative", "scale": {"domain": [0, 600], "range": [279, 435], "nice": false, "zero": false}, "axis": null}, "y": {"field": "y", "type": "quantitative", "scale": {"domain": [0, 1], "range": [303, 178], "nice": false, "zero": false}, "axis": null}, "color": {"field": "g", "type": "nominal", "scale": {"domain": ["cav","lam","mix"], "range": ["#1F7ACB","#FF9A00","#000000"]}, "legend": null}}},
      {"data": {"name": "ptsB"}, "transform": [{"filter": "datum.p == 'S3'"}],
       "mark": {"type": "point", "filled": true, "opacity": 1, "size": 30, "strokeWidth": 0.8, "fill": "#ffffff"},
       "encoding": {"x": {"field": "x", "type": "quantitative", "scale": {"domain": [0, 600], "range": [279, 435], "nice": false, "zero": false}, "axis": null}, "y": {"field": "y", "type": "quantitative", "scale": {"domain": [0, 1], "range": [303, 178], "nice": false, "zero": false}, "axis": null}, "stroke": {"field": "g", "type": "nominal", "scale": {"domain": ["cav","lam","mix"], "range": ["#1F7ACB","#FF9A00","#000000"]}, "legend": null}, "shape": {"value": "M-0.9,-0.9H0.9V0.9H-0.9Z M-0.55,-0.55L0.55,0.55 M-0.55,0.55L0.55,-0.55"}}},
      {"data": {"name": "insB"}, "transform": [{"filter": "datum.p == 'S3'"}],
       "mark": {"type": "text", "fontSize": 17, "baseline": "middle", "color": "#1a1a1a"},
       "encoding": {"x": {"datum": 300, "type": "quantitative", "scale": {"domain": [0, 600], "range": [279, 435], "nice": false, "zero": false}, "axis": null}, "y": {"datum": 1.136, "type": "quantitative", "scale": {"domain": [0, 1], "range": [303, 178], "nice": false, "zero": false}, "axis": null}, "text": {"field": "name"}}}
     ]
    },
    {
     "layer": [
      {"data": {"name": "insB"}, "transform": [{"filter": "datum.p == 'B1'"}],
       "mark": {"type": "rect", "fill": "#ffffff", "stroke": "#7f7f7f", "strokeWidth": 1.3},
       "encoding": {"x": {"datum": 0, "type": "quantitative", "scale": {"domain": [0, 600], "range": [438, 597], "nice": false, "zero": false}, "axis": null}, "x2": {"datum": 600}, "y": {"datum": 0, "type": "quantitative", "scale": {"domain": [0, 1], "range": [303, 178], "nice": false, "zero": false}, "axis": null}, "y2": {"datum": 1}}},
      {"data": {"name": "curB"}, "transform": [{"filter": "datum.p == 'B1' && datum.x <= 600"}],
       "mark": {"type": "line", "interpolate": "monotone", "strokeWidth": 1.6},
       "encoding": {"x": {"field": "x", "type": "quantitative", "scale": {"domain": [0, 600], "range": [438, 597], "nice": false, "zero": false}, "axis": null}, "y": {"field": "y", "type": "quantitative", "scale": {"domain": [0, 1], "range": [303, 178], "nice": false, "zero": false}, "axis": null}, "color": {"field": "g", "type": "nominal", "scale": {"domain": ["cav","lam","mix"], "range": ["#1F7ACB","#FF9A00","#000000"]}, "legend": null}}},
      {"data": {"name": "ptsB"}, "transform": [{"filter": "datum.p == 'B1'"}],
       "mark": {"type": "point", "filled": true, "opacity": 1, "size": 30, "strokeWidth": 0.8, "fill": "#ffffff"},
       "encoding": {"x": {"field": "x", "type": "quantitative", "scale": {"domain": [0, 600], "range": [438, 597], "nice": false, "zero": false}, "axis": null}, "y": {"field": "y", "type": "quantitative", "scale": {"domain": [0, 1], "range": [303, 178], "nice": false, "zero": false}, "axis": null}, "stroke": {"field": "g", "type": "nominal", "scale": {"domain": ["cav","lam","mix"], "range": ["#1F7ACB","#FF9A00","#000000"]}, "legend": null}, "shape": {"value": "M-0.9,-0.9H0.9V0.9H-0.9Z M-0.55,-0.55L0.55,0.55 M-0.55,0.55L0.55,-0.55"}}},
      {"data": {"name": "insB"}, "transform": [{"filter": "datum.p == 'B1'"}],
       "mark": {"type": "text", "fontSize": 17, "baseline": "middle", "color": "#1a1a1a"},
       "encoding": {"x": {"datum": 300, "type": "quantitative", "scale": {"domain": [0, 600], "range": [438, 597], "nice": false, "zero": false}, "axis": null}, "y": {"datum": 1.136, "type": "quantitative", "scale": {"domain": [0, 1], "range": [303, 178], "nice": false, "zero": false}, "axis": null}, "text": {"field": "name"}}}
     ]
    },
    {
     "layer": [
      {"data": {"name": "insB"}, "transform": [{"filter": "datum.p == 'C3'"}],
       "mark": {"type": "rect", "fill": "#ffffff", "stroke": "#7f7f7f", "strokeWidth": 1.3},
       "encoding": {"x": {"datum": 0, "type": "quantitative", "scale": {"domain": [0, 600], "range": [599, 758], "nice": false, "zero": false}, "axis": null}, "x2": {"datum": 600}, "y": {"datum": 0, "type": "quantitative", "scale": {"domain": [0, 1], "range": [303, 178], "nice": false, "zero": false}, "axis": null}, "y2": {"datum": 1}}},
      {"data": {"name": "curB"}, "transform": [{"filter": "datum.p == 'C3' && datum.x <= 600"}],
       "mark": {"type": "line", "interpolate": "monotone", "strokeWidth": 1.6},
       "encoding": {"x": {"field": "x", "type": "quantitative", "scale": {"domain": [0, 600], "range": [599, 758], "nice": false, "zero": false}, "axis": null}, "y": {"field": "y", "type": "quantitative", "scale": {"domain": [0, 1], "range": [303, 178], "nice": false, "zero": false}, "axis": null}, "color": {"field": "g", "type": "nominal", "scale": {"domain": ["cav","lam","mix"], "range": ["#1F7ACB","#FF9A00","#000000"]}, "legend": null}}},
      {"data": {"name": "ptsB"}, "transform": [{"filter": "datum.p == 'C3'"}],
       "mark": {"type": "point", "filled": true, "opacity": 1, "size": 30, "strokeWidth": 0},
       "encoding": {"x": {"field": "x", "type": "quantitative", "scale": {"domain": [0, 600], "range": [599, 758], "nice": false, "zero": false}, "axis": null}, "y": {"field": "y", "type": "quantitative", "scale": {"domain": [0, 1], "range": [303, 178], "nice": false, "zero": false}, "axis": null}, "color": {"field": "g", "type": "nominal", "scale": {"domain": ["cav","lam","mix"], "range": ["#1F7ACB","#FF9A00","#000000"]}, "legend": null}, "shape": {"value": "M0,-0.8L0.8,0L0,0.8L-0.8,0Z"}}},
      {"data": {"name": "insB"}, "transform": [{"filter": "datum.p == 'C3'"}],
       "mark": {"type": "text", "fontSize": 17, "baseline": "middle", "color": "#1a1a1a"},
       "encoding": {"x": {"datum": 300, "type": "quantitative", "scale": {"domain": [0, 600], "range": [599, 758], "nice": false, "zero": false}, "axis": null}, "y": {"datum": 1.136, "type": "quantitative", "scale": {"domain": [0, 1], "range": [303, 178], "nice": false, "zero": false}, "axis": null}, "text": {"field": "name"}}}
     ]
    }
   ]
  }]
 }]
}
]
}
